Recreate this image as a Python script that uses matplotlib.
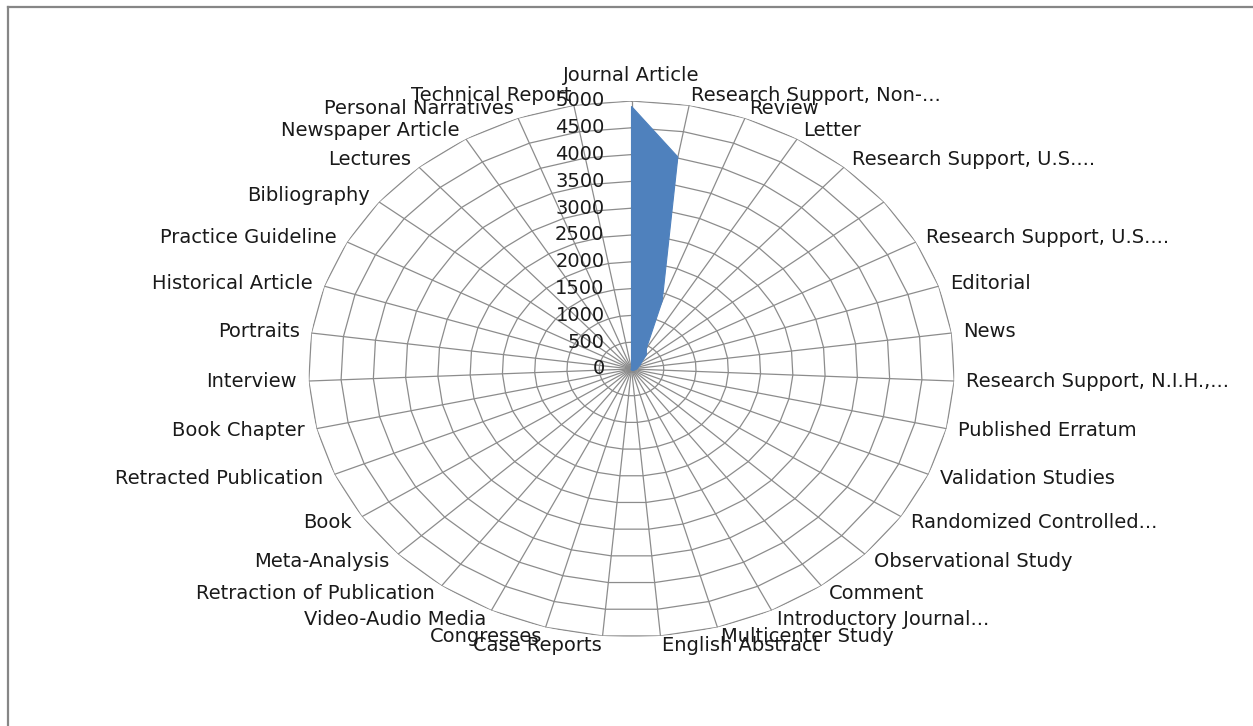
import numpy as np
import matplotlib
matplotlib.use("Agg")
import matplotlib.pyplot as plt
from matplotlib.lines import Line2D

categories = [
    "Journal Article", "Research Support, Non-...", "Review", "Letter",
    "Research Support, U.S....", "", "Research Support, U.S....", "Editorial",
    "News", "Research Support, N.I.H.,...", "Published Erratum",
    "Validation Studies", "Randomized Controlled...", "Observational Study",
    "Comment", "Introductory Journal...", "Multicenter Study", "English Abstract",
    "Case Reports", "Congresses", "Video-Audio Media", "Retraction of Publication",
    "Meta-Analysis", "Book", "Retracted Publication", "Book Chapter", "Interview",
    "Portraits", "Historical Article", "Practice Guideline", "Bibliography",
    "Lectures", "Newspaper Article", "Personal Narratives", "Technical Report",
]
values = [
    4900, 4020, 1350, 450, 350, 200, 150, 110, 90, 80, 60, 50, 45, 40, 35, 30,
    25, 22, 20, 18, 15, 12, 10, 9, 8, 7, 6, 5, 5, 4, 3, 3, 2, 2, 1,
]
radial_ticks = [0, 500, 1000, 1500, 2000, 2500, 3000, 3500, 4000, 4500, 5000]

plt.rcParams['font.family'] = ['DejaVu Sans']
FS = 14
GRID = '#8c8c8c'
FILL = '#4F81BD'

W, H = 1253, 726
fig = plt.figure(figsize=(W / 100, H / 100), dpi=100)

cx, cy, rx, ry = 631.5, 369, 323, 268
ax = fig.add_axes([(cx - rx) / W, (H - cy - ry) / H, 2 * rx / W, 2 * ry / H],
                  projection='polar')
ax.set_aspect('auto')
ax.set_theta_zero_location('N')
ax.set_theta_direction(-1)
rmax = radial_ticks[-1]
ax.set_ylim(0, rmax)
ax.grid(False)
ax.spines['polar'].set_visible(False)
ax.set_xticks([])
ax.set_yticks([])
ax.patch.set_alpha(0)

n = len(categories)
theta = np.arange(n) * 2 * np.pi / n
theta_c = np.append(theta, theta[0])

# polygon grid rings
for r in radial_ticks[1:]:
    ax.plot(theta_c, [r] * (n + 1), color=GRID, lw=0.9, zorder=1)
# radial spokes
for t in theta:
    ax.plot([t, t], [0, rmax], color=GRID, lw=0.9, zorder=1)

# data
vals_c = np.append(values, values[0])
ax.fill(theta_c, vals_c, color=FILL, lw=0.8, edgecolor=FILL, zorder=3)

# radial tick labels
for r in radial_ticks:
    ax.annotate(str(r), xy=(0, r), xytext=(-27, 0), textcoords='offset pixels',
                ha='right', va='center', fontsize=FS, color='#1a1a1a',
                annotation_clip=False, zorder=5)

# category labels
for i, (t, lab) in enumerate(zip(theta, categories)):
    if not lab:
        continue
    s, c = np.sin(t), np.cos(t)
    if i == 0:
        ax.annotate(lab, xy=(t, rmax), xytext=(0, 20), textcoords='offset pixels',
                    ha='center', va='baseline', fontsize=FS, color='#1a1a1a',
                    annotation_clip=False)
        continue
    ha = 'left' if s > 0 else 'right'
    ax.annotate(lab, xy=(t, rmax), xytext=(12 * s, 10 * c), textcoords='offset pixels',
                ha=ha, va='center', fontsize=FS, color='#1a1a1a',
                annotation_clip=False)

# chart border (left and top)
fig.add_artist(Line2D([8 / W, 8 / W], [0, 1 - 7 / H], color='#868686', lw=1.6,
                      transform=fig.transFigure))
fig.add_artist(Line2D([8 / W, 1], [1 - 7 / H, 1 - 7 / H], color='#868686', lw=1.6,
                      transform=fig.transFigure))

fig.savefig('out.png', dpi=100)
